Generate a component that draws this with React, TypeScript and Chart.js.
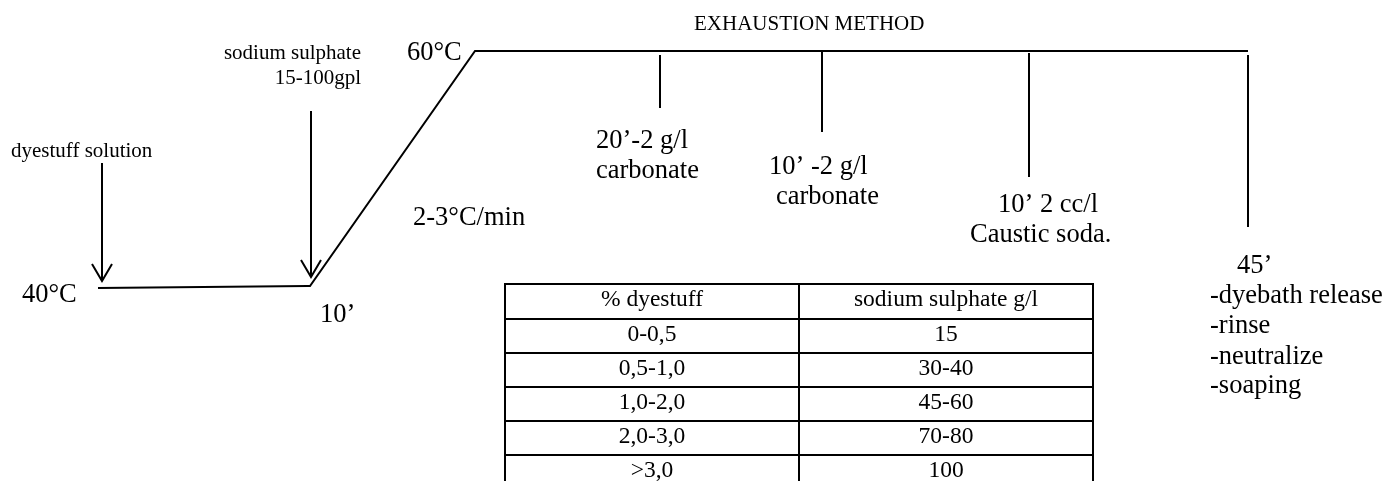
import React, { useEffect, useRef } from "react";
import { Chart, registerables } from "chart.js";

Chart.register(...registerables);

// Temperature profile (diagram units: x = process progress, y = drawing level)
const profileX = [98, 308, 310, 475, 1248];
const profileY = [288, 286, 286, 51, 51];

// Dosing marker lines hanging below the 60°C hold
const markerX = [660, 822, 1029, 1248];
const markerTop = [55, 52, 53, 55];
const markerBottom = [108, 132, 177, 227];

// Addition arrows
const arrowX = [102, 311];
const arrowTop = [163, 111];
const arrowTip = [281, 277];

// Table of sodium sulphate dosing
const tableHeader = ["% dyestuff", "sodium sulphate g/l"];
const dyestuffPct = ["0-0,5", "0,5-1,0", "1,0-2,0", "2,0-3,0", ">3,0"];
const sulphateGpl = ["15", "30-40", "45-60", "70-80", "100"];

// Labels
const labelTexts = [
  "EXHAUSTION METHOD",
  "sodium sulphate",
  "15-100gpl",
  "60°C",
  "dyestuff solution",
  "2-3°C/min",
  "40°C",
  "10’",
  "20’-2 g/l",
  "carbonate",
  "10’ -2 g/l",
  "carbonate",
  "10’ 2 cc/l",
  "Caustic soda.",
  "45’",
  "-dyebath release",
  "-rinse",
  "-neutralize",
  "-soaping",
];

// layout of labels (x, baseline y, align, font size)
const labelLayout: [number, number, CanvasTextAlign, number][] = [
  [694, 30, "left", 21],
  [361, 59, "right", 21],
  [361, 84, "right", 21],
  [407, 60, "left", 26.5],
  [11, 157, "left", 21],
  [413, 225, "left", 26.5],
  [22, 302, "left", 26.5],
  [320, 322, "left", 26.5],
  [596, 148, "left", 26.5],
  [596, 178, "left", 26.5],
  [769, 174, "left", 26.5],
  [776, 204, "left", 26.5],
  [998, 212, "left", 26.5],
  [970, 242, "left", 26.5],
  [1237, 273, "left", 26.5],
  [1210, 303, "left", 26.5],
  [1210, 333, "left", 26.5],
  [1210, 364, "left", 26.5],
  [1210, 393, "left", 26.5],
];

const tableColEdges = [505, 799, 1093];
const tableRowEdges = [284, 319, 353, 387, 421, 455];
const tableBottom = 481;

const FONT = '"Liberation Serif", "Times New Roman", serif';

function seg(points: { x: number; y: number }[], width = 2) {
  return {
    data: points,
    showLine: true,
    borderColor: "#000",
    borderWidth: width,
    pointRadius: 0,
    pointHoverRadius: 0,
    fill: false,
    tension: 0,
  };
}

export default function App() {
  const ref = useRef<HTMLCanvasElement | null>(null);

  useEffect(() => {
    if (!ref.current) return;
    const datasets: any[] = [];
    datasets.push(seg(profileX.map((x, i) => ({ x, y: profileY[i] }))));
    markerX.forEach((x, i) => {
      datasets.push(seg([{ x, y: markerTop[i] }, { x, y: markerBottom[i] }]));
    });
    arrowX.forEach((x, i) => {
      datasets.push(seg([{ x, y: arrowTop[i] }, { x, y: arrowTip[i] }]));
      datasets.push(
        seg([
          { x: x - 10, y: arrowTip[i] - 17 },
          { x, y: arrowTip[i] },
          { x: x + 10, y: arrowTip[i] - 17 },
        ])
      );
    });
    tableRowEdges.forEach((y) => {
      datasets.push(seg([{ x: tableColEdges[0] - 1, y }, { x: tableColEdges[2] + 1, y }]));
    });
    tableColEdges.forEach((x) => {
      datasets.push(seg([{ x, y: tableRowEdges[0] - 1 }, { x, y: tableBottom + 2 }]));
    });

    const textPlugin = {
      id: "texts",
      afterDatasetsDraw(chart: any) {
        const ctx = chart.ctx as CanvasRenderingContext2D;
        const xs = chart.scales.x;
        const ys = chart.scales.y;
        ctx.save();
        ctx.fillStyle = "#000";
        ctx.textBaseline = "alphabetic";
        labelTexts.forEach((t, i) => {
          const [x, y, align, size] = labelLayout[i];
          ctx.font = `${size}px ${FONT}`;
          ctx.textAlign = align;
          ctx.fillText(t, xs.getPixelForValue(x), ys.getPixelForValue(y));
        });
        ctx.font = `23.5px ${FONT}`;
        ctx.textAlign = "center";
        const rows = [tableHeader, ...dyestuffPct.map((d, i) => [d, sulphateGpl[i]])];
        rows.forEach((row, r) => {
          const y = tableRowEdges[r] + 22;
          row.forEach((cell, c) => {
            const cx = (tableColEdges[c] + tableColEdges[c + 1]) / 2;
            ctx.fillText(cell, xs.getPixelForValue(cx), ys.getPixelForValue(y));
          });
        });
        ctx.restore();
      },
    };

    const chart = new Chart(ref.current, {
      type: "scatter",
      data: { datasets },
      options: {
        animation: false,
        responsive: false,
        layout: { padding: 0 },
        plugins: { legend: { display: false }, tooltip: { enabled: false } },
        scales: {
          x: { type: "linear", min: 0, max: 1400, display: false },
          y: { type: "linear", min: 0, max: 481, reverse: true, display: false },
        },
      },
      plugins: [textPlugin],
    });
    return () => chart.destroy();
  }, []);

  return (
    <div style={{ position: "fixed", left: 0, top: 0, width: 1400, height: 481, background: "#fff" }}>
      <canvas ref={ref} width={1400} height={481} style={{ display: "block" }} />
    </div>
  );
}
